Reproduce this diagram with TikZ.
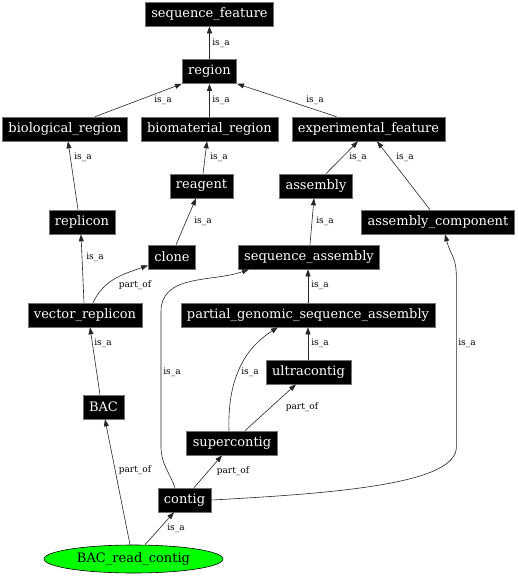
\documentclass[tikz,border=0pt]{standalone}
\usepackage{fontspec}
\setmainfont{DejaVu Serif}
\usepackage{tikz}
\usetikzlibrary{arrows.meta,shapes.geometric}
\tikzset{
term/.style={fill=black, draw=black!55, line width=0.6pt, text=white, inner xsep=6pt, inner ysep=0pt, minimum height=24pt, font=\fontsize{13}{15}\selectfont},
rel/.style={draw=black!85, line width=0.6pt, -{Triangle[length=7pt,width=5pt]}},
lbl/.style={font=\fontsize{9}{10}\selectfont, inner sep=0pt}
}

\begin{document}
\begin{tikzpicture}[x=1pt,y=1pt]
      \useasboundingbox (0,0) rectangle (518,-576);
      % terms
      \node[term] (seqfeat) at (209.5,-14) {sequence\_feature};
      \node[term] (region) at (209.5,-71.5) {region};
      \node[term] (bioreg) at (65,-129) {biological\_region};
      \node[term] (biomat) at (209.5,-129) {biomaterial\_region};
      \node[term] (expfeat) at (368.5,-129) {experimental\_feature};
      \node[term] (reagent) at (201.5,-186) {reagent};
      \node[term] (assembly) at (316,-186) {assembly};
      \node[term] (replicon) at (82,-222) {replicon};
      \node[term] (asmcomp) at (438,-222) {assembly\_component};
      \node[term] (clone) at (172,-257) {clone};
      \node[term] (seqasm) at (309,-257) {sequence\_assembly};
      \node[term] (vecrep) at (85,-315) {vector\_replicon};
      \node[term] (pgsa) at (308,-315) {partial\_genomic\_sequence\_assembly};
      \node[term] (ultra) at (308.5,-372) {ultracontig};
      \node[term] (bac) at (103.5,-407) {BAC};
      \node[term] (super) at (232,-443) {supercontig};
      \node[term] (contig) at (184.5,-500) {contig};
      \node[ellipse, draw=black, line width=0.6pt, fill=green, inner sep=0pt, minimum width=179pt, minimum height=28pt, font=\fontsize{13}{15}\selectfont] (brc) at (133.5,-559) {BAC\_read\_contig};
      % relations
      \draw[rel] (region) -- (seqfeat) node[lbl] at (221,-43) {is\_a};
      \draw[rel] ([xshift=30pt]bioreg.north) -- (region.south west) node[lbl] at (163,-100) {is\_a};
      \draw[rel] (biomat) -- (region) node[lbl] at (221,-100) {is\_a};
      \draw[rel] ([xshift=-32pt]expfeat.north) -- (region.south east) node[lbl] at (315,-100) {is\_a};
      \draw[rel] ([xshift=-4pt]replicon.north) -- ([xshift=3pt]bioreg.south) node[lbl] at (83,-157) {is\_a};
      \draw[rel] ([xshift=1.5pt]reagent.north) -- ([xshift=-2.5pt]biomat.south) node[lbl] at (219,-157) {is\_a};
      \draw[rel] ([xshift=10pt]assembly.north) -- ([xshift=-10.5pt]expfeat.south) node[lbl] at (358,-157) {is\_a};
      \draw[rel] ([xshift=-8pt]asmcomp.north) -- ([xshift=8.5pt]expfeat.south) node[lbl] at (405,-157) {is\_a};
      \draw[rel] ([xshift=4pt]clone.north) -- ([xshift=-5.5pt]reagent.south) node[lbl] at (203,-221) {is\_a};
      \draw[rel] ([xshift=1pt]seqasm.north) -- ([xshift=-2pt]assembly.south) node[lbl] at (325,-221) {is\_a};
      \draw[rel] ([xshift=-1pt]vecrep.north) -- ([xshift=-1pt]replicon.south) node[lbl] at (95,-257) {is\_a};
      \draw[rel] ([xshift=8pt]vecrep.north) to[out=65,in=200] ([yshift=4pt]clone.south west) node[lbl] at (135,-285) {part\_of};
      \draw[rel] (pgsa.north) -- (pgsa.north |- seqasm.south) node[lbl] at (320,-285) {is\_a};
      \draw[rel] ([xshift=-9.5pt]contig.north) to[out=110,in=-90] ++(-14,41) -- ++(0,135) to[out=90,in=200] ([xshift=11pt]seqasm.south west) node[lbl] at (172,-372) {is\_a};
      \draw[rel] ([xshift=-0.5pt]ultra.north) -- (pgsa.south) node[lbl] at (320,-343) {is\_a};
      \draw[rel] ([xshift=-3pt]super.north) to[out=92,in=212] ([xshift=-30pt]pgsa.south) node[lbl] at (250,-372) {is\_a};
      \draw[rel] ([xshift=13pt]super.north) -- ([xshift=-12.5pt]ultra.south) node[lbl] at (302,-407) {part\_of};
      \draw[rel] ([xshift=9.5pt]contig.north) -- ([xshift=-10pt]super.south) node[lbl] at (233,-471) {part\_of};
      \draw[rel] ([xshift=-3.5pt]brc.north) -- ([xshift=1.5pt]bac.south) node[lbl] at (135,-470) {part\_of};
      \draw[rel] ([xshift=-3.5pt]bac.north) -- ([xshift=5pt]vecrep.south) node[lbl] at (103,-343) {is\_a};
      \draw[rel] ([xshift=11.5pt]brc.north) -- ([xshift=-10.5pt]contig.south) node[lbl] at (176,-528) {is\_a};
      \draw[rel] (contig.east) to[out=3,in=-90,out distance=140pt,in distance=35pt] ++(245,53) -- ++(0,167) to[out=90,in=-75,distance=25pt] ([xshift=7pt]asmcomp.south) node[lbl] at (467,-343) {is\_a};
\end{tikzpicture}
\end{document}
